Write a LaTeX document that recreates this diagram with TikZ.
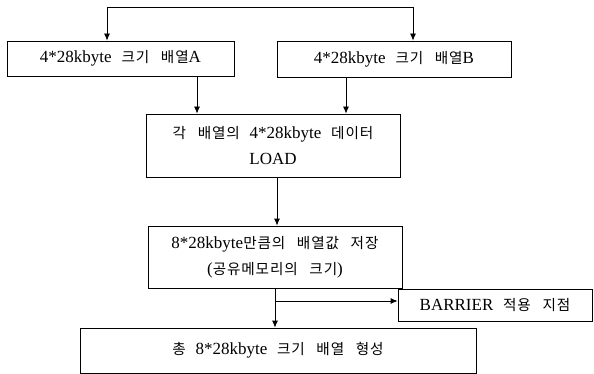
\documentclass[tikz,border=0pt]{standalone}
\usepackage{fontspec}
\setmainfont[WordSpace=2.3]{Liberation Serif}
\newfontfamily\kr[Scale=0.86,LetterSpace=6,WordSpace=2.8]{Noto Sans CJK KR}
\usetikzlibrary{arrows.meta}
\begin{document}
\begin{tikzpicture}[x=1pt,y=-1pt,
  box/.style={draw,line width=0.8pt,minimum width=#1,inner sep=0pt,align=center,font=\fontsize{17}{26}\selectfont},
  arr/.style={line width=0.8pt,-{Latex[length=7pt,width=6pt]}},
  arrb/.style={line width=0.8pt,{Latex[length=7pt,width=6pt]}-{Latex[length=7pt,width=6pt]}}]
\useasboundingbox (0,0) rectangle (594,374);
\node[box=227pt,minimum height=35pt] (A) at (120.5,58.5) {4*28kbyte {\kr 크기 배열}A};
\node[box=234pt,minimum height=36pt] (B) at (394,59) {4*28kbyte {\kr 크기 배열}B};
\node[box=254pt,minimum height=63pt] (C) at (273,145.5) {{\kr 각 배열의} 4*28kbyte {\kr 데이터}\\LOAD};
\node[box=254pt,minimum height=62pt] (D) at (275,257) {8*28kbyte{\kr 만큼의 배열값 저장}\\({\kr 공유메모리의 크기})};
\node[box=194pt,minimum height=32pt] (R) at (495,305) {BARRIER {\kr 적용 지점}};
\node[box=396pt,minimum height=45pt] (E) at (278,350.5) {{\kr 총} 8*28kbyte {\kr 크기 배열 형성}};
\coordinate (tl) at (107,7);
\coordinate (tr) at (413,7);
\coordinate (ax) at (197,0);
\coordinate (bx) at (346,0);
\coordinate (cx) at (277,0);
\coordinate (br) at (275,301);
\draw[arrb] (tl |- A.north) -- (tl) -- (tr) -- (tr |- B.north);
\draw[arr] (A.south -| ax) -- (C.north -| ax);
\draw[arr] (B.south -| bx) -- (C.north -| bx);
\draw[arr] (C.south -| cx) -- (D.north -| cx);
\draw[arr] (D.south -| br) -- (E.north -| br);
\draw[arr] (br) -- (br -| R.west);
\end{tikzpicture}
\end{document}
